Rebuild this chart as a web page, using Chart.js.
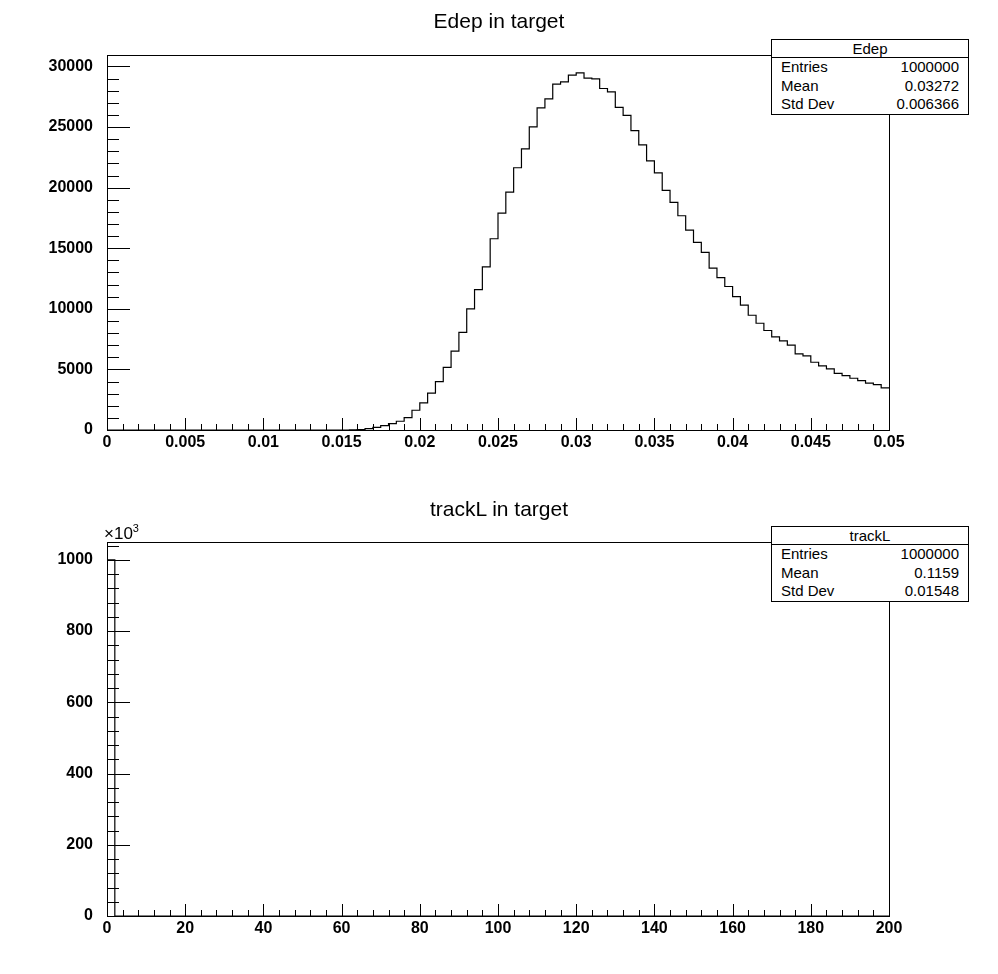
<!DOCTYPE html>
<html>
<head>
<meta charset="utf-8">
<script src="https://cdn.jsdelivr.net/npm/chart.js@4.4.0/dist/chart.umd.min.js"></script>
<style>
  body { margin: 0; background: #fff; font-family: "Liberation Sans", Arial, sans-serif; }
  #wrap { position: relative; width: 998px; height: 974px; background: #fff; }
  canvas { position: absolute; left: 0; }
  .title { position: absolute; left: 0; width: 998px; text-align: center; font-size: 21px; }
  .stats { position: absolute; left: 771px; width: 196px; border: 1px solid #000; background: #fff; font-size: 15px; }
  .stats .hd { text-align: center; border-bottom: 1px solid #000; height: 17px; line-height: 17px; }
  .stats .row { display: flex; justify-content: space-between; padding: 0 9px; height: 18.5px; line-height: 18.5px; }
  .mult { position: absolute; left: 104px; top: 522px; font-size: 17px; }
  .mult sup { font-size: 11px; }
</style>
</head>
<body>
<div id="wrap">
  <canvas id="edepChart" style="top:0"></canvas>
  <canvas id="trackChart" style="top:487px"></canvas>
  <div class="title" style="top:9px">Edep in target</div>
  <div class="title" style="top:497px">trackL in target</div>
  <div class="stats" style="top:39px">
    <div class="hd">Edep</div>
    <div class="row"><span>Entries</span><span>1000000</span></div>
    <div class="row"><span>Mean</span><span>0.03272</span></div>
    <div class="row"><span>Std Dev</span><span>0.006366</span></div>
  </div>
  <div class="stats" style="top:526px">
    <div class="hd">trackL</div>
    <div class="row"><span>Entries</span><span>1000000</span></div>
    <div class="row"><span>Mean</span><span>0.1159</span></div>
    <div class="row"><span>Std Dev</span><span>0.01548</span></div>
  </div>
  <div class="mult">×10<sup>3</sup></div>
</div>
<script>
// Edep histogram: 100 bins from 0 to 0.05
const edepMin = 0, edepMax = 0.05, edepBins = 100;
const edepCounts = [
  0,0,0,0,0,0,0,0,0,0,
  0,0,0,0,0,0,0,0,0,0,
  0,0,0,0,0,0,0,0,0,0,
  0,5,30,110,220,360,520,720,1020,1630,
  2240,3040,4000,5160,6510,8060,9990,11590,13460,15780,
  17900,19630,21640,23190,25010,26580,27320,28540,28730,29280,
  29470,29030,28980,28180,27900,26630,25970,24700,23520,22200,
  21210,19780,18790,17680,16500,15480,14650,13360,12580,11840,
  11010,10300,9470,8810,8210,7680,7350,7000,6280,6110,
  5590,5290,5040,4680,4490,4270,4080,3860,3750,3470
];
const edepXTicks = [0,0.005,0.01,0.015,0.02,0.025,0.03,0.035,0.04,0.045,0.05];
const edepYTicks = [0,5000,10000,15000,20000,25000,30000];

// trackL histogram: 100 bins from 0 to 200, counts in units of 10^3
const trackMin = 0, trackMax = 200, trackBins = 100;
const trackCounts = new Array(100).fill(0);
trackCounts[0] = 1000;
const trackXTicks = [0,20,40,60,80,100,120,140,160,180,200];
const trackYTicks = [0,200,400,600,800,1000];

function histPoints(counts, lo, hi) {
  const w = (hi - lo) / counts.length;
  const pts = [{x: lo, y: 0}];
  counts.forEach((c, i) => {
    pts.push({x: lo + i * w, y: c});
    pts.push({x: lo + (i + 1) * w, y: c});
  });
  return pts;
}

// ROOT-style inward ticks and frame
const rootFrame = {
  id: 'rootFrame',
  afterDraw(chart, args, opts) {
    const {ctx, chartArea: a, scales: {x, y}} = chart;
    ctx.save();
    ctx.strokeStyle = '#000';
    ctx.lineWidth = 1;
    ctx.strokeRect(a.left + 0.5, a.top + 0.5, a.right - a.left, a.bottom - a.top);
    ctx.beginPath();
    const xs = opts.xMinor, ys = opts.yMinor;
    for (let i = 0; i * xs <= x.max - x.min + 1e-12; i++) {
      const v = x.min + i * xs;
      const px = Math.round(x.getPixelForValue(v)) + 0.5;
      const len = (i % 5 === 0) ? 12 : 6;
      ctx.moveTo(px, a.bottom); ctx.lineTo(px, a.bottom - len);
    }
    for (let i = 0; y.min + i * ys <= y.max + 1e-9; i++) {
      const v = y.min + i * ys;
      const py = Math.round(y.getPixelForValue(v)) + 0.5;
      const len = (i % 5 === 0) ? 23 : 12;
      ctx.moveTo(a.left, py); ctx.lineTo(a.left + len, py);
    }
    ctx.stroke();
    ctx.restore();
  }
};

const tickFont = {family: 'Liberation Sans', size: 16, weight: 'bold'};

function makeHist(id, counts, lo, hi, yMax, xTicks, yTicks, xMinor, yMinor, fmt) {
  const canvas = document.getElementById(id);
  return new Chart(canvas, {
    type: 'line',
    data: {
      datasets: [{
        data: histPoints(counts, lo, hi),
        borderColor: '#000',
        borderWidth: 1.2,
        pointRadius: 0,
        fill: false,
        tension: 0
      }]
    },
    options: {
      responsive: false,
      animation: false,
      events: [],
      layout: {padding: {top: 55, right: 109, left: 0, bottom: 0}},
      plugins: {legend: {display: false}, tooltip: {enabled: false}, rootFrame: {xMinor, yMinor}},
      scales: {
        x: {
          type: 'linear', min: lo, max: hi,
          afterBuildTicks: s => { s.ticks = xTicks.map(v => ({value: v})); },
          afterFit: s => { s.height = 40; },
          grid: {display: false},
          border: {display: false},
          ticks: {color: '#000', font: tickFont, maxRotation: 0, autoSkip: false, padding: -5,
                  callback: v => fmt ? fmt(v) : String(v)}
        },
        y: {
          min: 0, max: yMax,
          afterBuildTicks: s => { s.ticks = yTicks.map(v => ({value: v})); },
          afterFit: s => { s.width = 107; },
          grid: {display: false},
          border: {display: false},
          ticks: {color: '#000', font: tickFont, padding: 6, callback: v => String(v)}
        }
      }
    },
    plugins: [rootFrame]
  });
}

const edepCanvas = document.getElementById('edepChart');
edepCanvas.width = 998; edepCanvas.height = 470;
const trackCanvas = document.getElementById('trackChart');
trackCanvas.width = 998; trackCanvas.height = 469;

makeHist('edepChart', edepCounts, edepMin, edepMax, 30944, edepXTicks, edepYTicks, 0.001, 1000,
  v => String(parseFloat(v.toFixed(4))));
makeHist('trackChart', trackCounts, trackMin, trackMax, 1050, trackXTicks, trackYTicks, 4, 40, null);
</script>
</body>
</html>
